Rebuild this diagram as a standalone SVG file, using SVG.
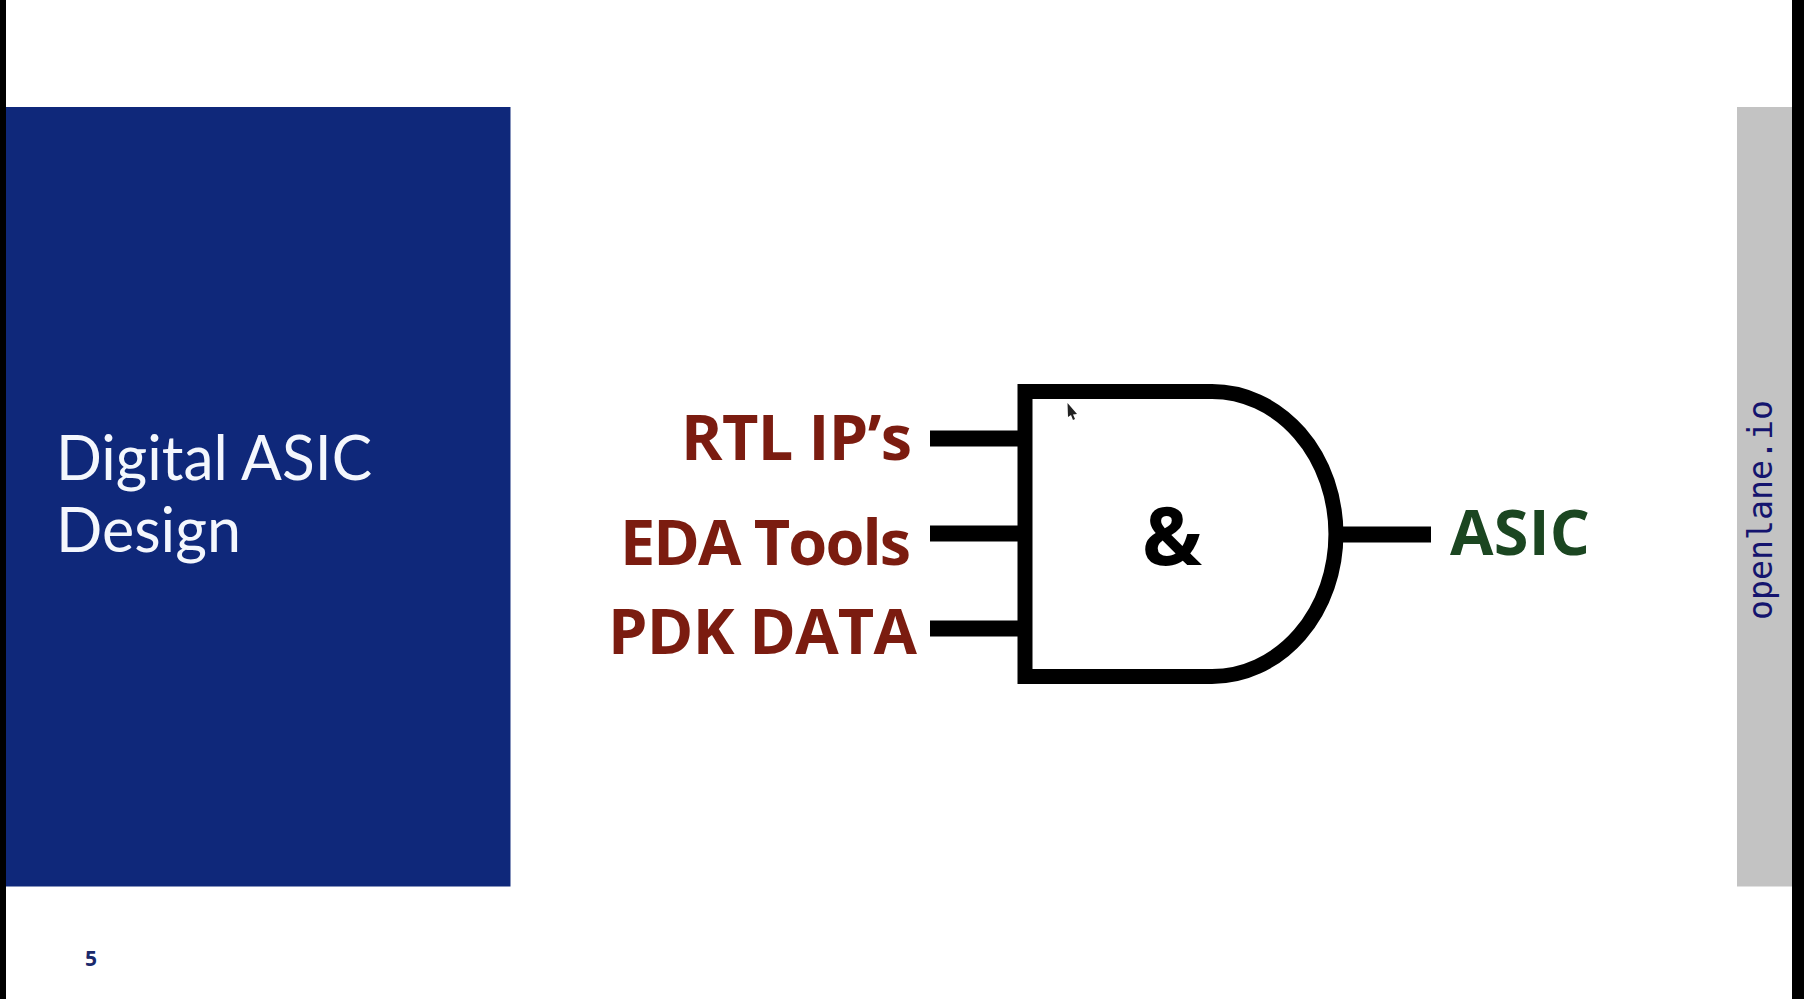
<svg xmlns="http://www.w3.org/2000/svg" width="1804" height="999" viewBox="0 0 1804 999">
<style>
.wire{stroke:#000;stroke-width:16;fill:none}
.lbl{font-family:"Open Sans","Liberation Sans",sans-serif;font-weight:700;font-size:63px}
.red{fill:#7b1c10}
.title{font-family:"Lato","Liberation Sans",sans-serif;font-size:62px;fill:#f4f7fd}
</style>
<rect width="1804" height="999" fill="#fff"/>
<g id="frame">
<rect x="0" y="0" width="6" height="999" fill="#000"/>
<rect x="1792" y="0" width="12" height="999" fill="#000"/>
</g>
<g id="title-panel">
<rect x="6" y="107" width="504.500" height="779.500" fill="#0f287a"/>
<text class="title" x="56" y="480" textLength="316" lengthAdjust="spacingAndGlyphs">Digital ASIC</text>
<text class="title" x="56" y="552" textLength="185" lengthAdjust="spacingAndGlyphs">Design</text>
</g>
<g id="page-number">
<text x="85" y="966" font-family="'Open Sans','Liberation Sans',sans-serif" font-weight="700" font-size="21" fill="#1a2a6c">5</text>
</g>
<g id="side-bar">
<rect x="1737" y="107" width="55" height="779.500" fill="#c3c3c3"/>
<text transform="translate(1772 620) rotate(-90)" font-family="'DejaVu Sans Mono','Liberation Mono',monospace" font-size="33" fill="#14146e" textLength="220" lengthAdjust="spacingAndGlyphs">openlane.io</text>
</g>
<g id="connectors">
<line class="wire" x1="930" y1="438.500" x2="1020" y2="438.500"/>
<line class="wire" x1="930" y1="533.500" x2="1020" y2="533.500"/>
<line class="wire" x1="930" y1="628.500" x2="1020" y2="628.500"/>
<line class="wire" x1="1340" y1="534.500" x2="1431" y2="534.500"/>
</g>
<g id="label-rtl">
<text class="lbl red" x="681" y="460" textLength="231" lengthAdjust="spacing">RTL IP’s</text>
</g>
<g id="label-eda">
<text class="lbl red" x="620" y="565" textLength="291" lengthAdjust="spacing">EDA Tools</text>
</g>
<g id="label-pdk">
<text class="lbl red" x="608" y="654" textLength="309" lengthAdjust="spacing">PDK DATA</text>
</g>
<g id="and-gate">
<path d="M1025 391.500H1212A124 142.500 0 0 1 1212 676.500H1025Z" fill="#fff" stroke="#000" stroke-width="15"/>
<text x="1172" y="565" text-anchor="middle" font-family="'Open Sans','Liberation Sans',sans-serif" font-weight="700" font-size="80" fill="#000">&amp;</text>
</g>
<g id="label-asic">
<text class="lbl" x="1450" y="555" fill="#1b4621" textLength="140" lengthAdjust="spacing">ASIC</text>
</g>
<g id="cursor">
<path d="M1067.500 403L1077 414L1073 414.500L1075 419L1073 420L1071 415L1068 417Z" fill="#222"/>
</g>
</svg>
